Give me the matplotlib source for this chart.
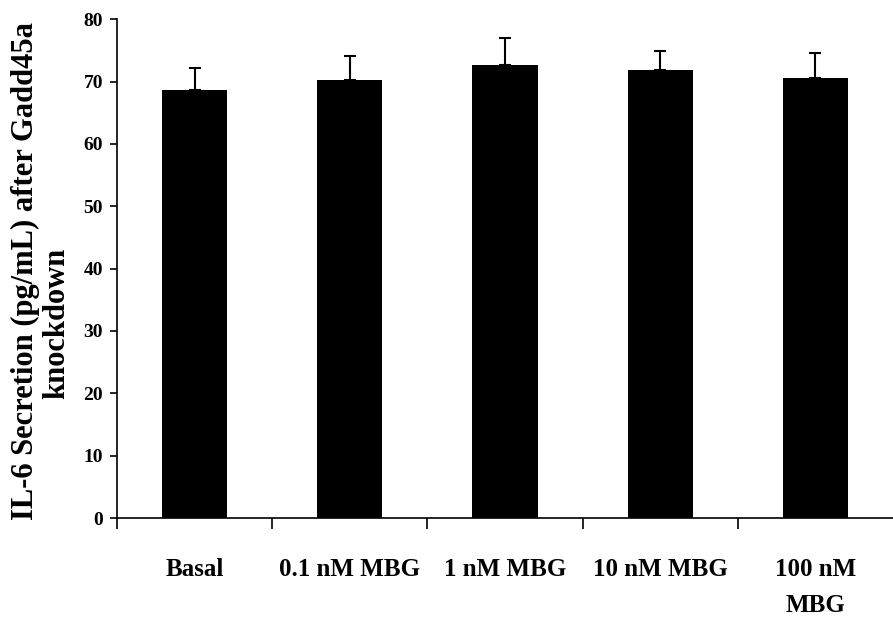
import numpy as np
import matplotlib
matplotlib.use('Agg')
import matplotlib.pyplot as plt

# IL-6 secretion after Gadd45a knockdown
categories = ['Basal', '0.1 nM MBG', '1 nM MBG', '10 nM MBG', '100 nM\nMBG']
means = [68.7, 70.3, 72.6, 71.8, 70.5]
errs = [3.4, 3.8, 4.4, 3.1, 4.1]

plt.rcParams['font.family'] = ['Liberation Serif', 'DejaVu Serif']
plt.rcParams['font.weight'] = 'bold'

fig = plt.figure(figsize=(8.93, 6.2), dpi=100)
ax = fig.add_axes([0.131, 0.1645, 0.869, 0.8045])

x = np.arange(len(categories)) + 0.5
ax.bar(x, means, width=0.42, color='black',
       yerr=[np.zeros(len(errs)), errs],
       error_kw=dict(ecolor='black', elinewidth=1.5, capsize=4.5, capthick=1.5))

ax.set_xlim(0, len(categories))
ax.set_ylim(0, 80)
ax.set_yticks(np.arange(0, 81, 10))
ax.set_yticklabels([str(v) for v in range(0, 81, 10)], fontsize=14, fontweight='bold')

# boundary ticks on x axis, labels at the bar centres
ax.set_xticks(np.arange(0, len(categories)))
ax.set_xticklabels([])
ax.set_xticks(x, minor=True)
ax.set_xticklabels(categories, minor=True, fontsize=18, fontweight='bold',
                   linespacing=1.7, va='top')
ax.tick_params(axis='x', which='major', direction='out', length=8, width=1.2)
ax.tick_params(axis='x', which='minor', length=0, pad=29)
ax.tick_params(axis='y', direction='out', length=5, width=1.2, pad=5)

ax.spines['top'].set_visible(False)
ax.spines['right'].set_visible(False)
ax.spines['left'].set_linewidth(1.2)
ax.spines['bottom'].set_linewidth(1.2)

# y label, two lines placed separately as in the original
fig.text(0.029, 0.563, 'IL-6 Secretion (pg/mL) after Gadd45a', rotation=90,
         ha='center', va='center', fontsize=22, fontweight='bold')
fig.text(0.063, 0.479, 'knockdown', rotation=90,
         ha='center', va='center', fontsize=22, fontweight='bold')

plt.savefig('out.png', dpi=100)
